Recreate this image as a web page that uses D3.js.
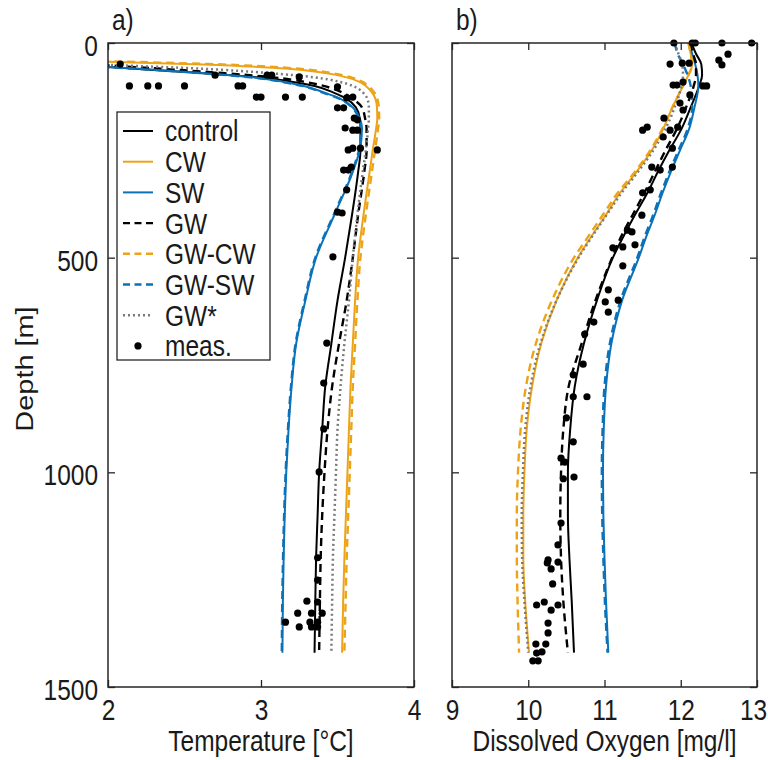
<!DOCTYPE html>
<html>
<head>
<meta charset="utf-8">
<script src="https://cdn.jsdelivr.net/npm/d3@7"></script>
<style>
  body { margin: 0; background: #fff; }
  text { font-family: "Liberation Sans", Arial, sans-serif; fill: #1a1a1a; }
</style>
</head>
<body>
<svg id="chart" width="768" height="760"></svg>
<script>
// ---- data: temperature panel (depth in m, temperature in degC) ----
const tempDepth = [40, 50, 60, 70, 80, 90, 100, 115, 130, 150, 175, 200, 250, 300, 400, 500, 600, 700, 800, 900, 1000, 1100, 1200, 1300, 1420];
const tempControl = [1.3, 1.75, 2.18, 2.6, 2.98, 3.2, 3.35, 3.47, 3.56, 3.62, 3.645, 3.65, 3.65, 3.635, 3.595, 3.55, 3.5, 3.46, 3.42, 3.4, 3.38, 3.37, 3.36, 3.355, 3.35];
const tempCW = [1.6, 2.62, 3.18, 3.42, 3.56, 3.64, 3.685, 3.725, 3.748, 3.758, 3.76, 3.752, 3.73, 3.71, 3.67, 3.635, 3.615, 3.6, 3.585, 3.575, 3.565, 3.555, 3.545, 3.537, 3.53];
const tempSW = [1.3, 1.72, 2.2, 2.62, 2.95, 3.14, 3.28, 3.41, 3.52, 3.6, 3.645, 3.66, 3.645, 3.6, 3.48, 3.36, 3.29, 3.23, 3.2, 3.18, 3.165, 3.155, 3.148, 3.143, 3.14];
const tempGW = [1.45, 1.9, 2.35, 2.75, 3.08, 3.28, 3.41, 3.53, 3.6, 3.66, 3.68, 3.69, 3.69, 3.675, 3.635, 3.6, 3.56, 3.51, 3.465, 3.435, 3.415, 3.4, 3.39, 3.385, 3.38];
const tempGWCW = [1.7, 2.75, 3.25, 3.46, 3.59, 3.66, 3.7, 3.74, 3.76, 3.77, 3.772, 3.765, 3.745, 3.725, 3.685, 3.65, 3.63, 3.615, 3.6, 3.59, 3.58, 3.57, 3.56, 3.553, 3.545];
const tempGWSW = [1.28, 1.7, 2.18, 2.6, 2.93, 3.13, 3.27, 3.4, 3.515, 3.595, 3.64, 3.655, 3.64, 3.595, 3.475, 3.355, 3.285, 3.226, 3.196, 3.176, 3.161, 3.151, 3.144, 3.139, 3.136];
const tempGWstar = [1.4, 1.95, 2.62, 3.05, 3.35, 3.51, 3.6, 3.665, 3.695, 3.705, 3.705, 3.7, 3.685, 3.665, 3.63, 3.6, 3.575, 3.545, 3.52, 3.5, 3.49, 3.48, 3.47, 3.465, 3.46];
const tempMeasDepth = [49, 100, 100, 100, 100, 75, 100, 100, 126, 126, 75, 75, 126, 79, 126, 102, 151, 151, 128, 126, 179, 198, 203, 203, 245, 245, 249, 289, 175, 249, 296, 296, 342, 394, 396, 498, 699, 792, 899, 999, 1199, 1251, 1300, 1302, 1328, 1328, 1328, 1349, 1349, 1349, 1360, 1360, 1360];
const tempMeas = [2.08, 2.14, 2.26, 2.33, 2.5, 2.7, 2.85, 2.88, 2.97, 3.0, 3.04, 3.07, 3.16, 3.25, 3.27, 3.5, 3.5, 3.54, 3.56, 3.6, 3.63, 3.55, 3.6, 3.63, 3.6, 3.65, 3.76, 3.59, 3.61, 3.57, 3.54, 3.57, 3.56, 3.5, 3.53, 3.47, 3.43, 3.41, 3.41, 3.38, 3.37, 3.37, 3.3, 3.37, 3.24, 3.33, 3.4, 3.16, 3.32, 3.37, 3.25, 3.33, 3.37];

// ---- data: oxygen panel (depth in m, dissolved oxygen in mg/l) ----
const oxyDepth = [0, 25, 50, 75, 100, 150, 200, 250, 300, 350, 400, 450, 500, 600, 700, 800, 900, 1000, 1100, 1200, 1300, 1420];
const oxyControl = [12.14, 12.2, 12.27, 12.28, 12.24, 12.13, 12.01, 11.85, 11.7, 11.56, 11.4, 11.25, 11.11, 10.9, 10.73, 10.61, 10.55, 10.52, 10.52, 10.54, 10.57, 10.6];
const oxyCW = [12.1, 12.13, 12.15, 12.1, 12.03, 11.89, 11.77, 11.62, 11.42, 11.2, 11.02, 10.83, 10.65, 10.37, 10.17, 10.05, 9.98, 9.95, 9.935, 9.935, 9.96, 10.01];
const oxySW = [12.11, 12.15, 12.19, 12.22, 12.23, 12.18, 12.11, 11.99, 11.87, 11.76, 11.66, 11.55, 11.45, 11.23, 11.09, 11.02, 10.99, 10.98, 10.985, 11.0, 11.02, 11.05];
const oxyGW = [12.12, 12.16, 12.2, 12.2, 12.17, 12.07, 11.95, 11.8, 11.66, 11.52, 11.37, 11.22, 11.1, 10.88, 10.7, 10.53, 10.46, 10.43, 10.42, 10.43, 10.46, 10.52];
const oxyGWCW = [12.1, 12.13, 12.15, 12.1, 12.03, 11.89, 11.76, 11.6, 11.4, 11.17, 10.98, 10.79, 10.6, 10.31, 10.1, 9.97, 9.9, 9.865, 9.85, 9.85, 9.86, 9.88];
const oxyGWSW = [11.92, 11.96, 12.03, 12.09, 12.13, 12.15, 12.09, 11.97, 11.85, 11.74, 11.64, 11.53, 11.43, 11.21, 11.07, 11.0, 10.975, 10.965, 10.97, 10.985, 11.005, 11.04];
const oxyGWstar = [11.92, 11.97, 12.02, 12.03, 12.01, 11.92, 11.8, 11.64, 11.44, 11.22, 11.03, 10.84, 10.66, 10.37, 10.16, 10.03, 9.96, 9.93, 9.915, 9.92, 9.95, 10.0];
const oxyMeasDepth = [0, 0, 0, 0, 0, 26, 40, 51, 49, 47, 47, 98, 98, 91, 100, 100, 121, 140, 175, 156, 203, 196, 203, 196, 219, 245, 289, 296, 289, 349, 342, 401, 436, 440, 475, 470, 477, 519, 575, 603, 599, 627, 650, 678, 748, 773, 824, 824, 873, 929, 967, 976, 1015, 1011, 1118, 1169, 1204, 1211, 1225, 1209, 1260, 1309, 1302, 1321, 1309, 1351, 1374, 1400, 1400, 1421, 1418, 1439, 1439];
const oxyMeas = [11.91, 12.15, 12.19, 12.54, 12.93, 12.62, 12.5, 12.54, 11.86, 12.02, 12.11, 11.9, 11.95, 12.03, 12.29, 12.34, 12.12, 11.99, 11.78, 12.03, 11.5, 11.56, 11.86, 11.96, 11.77, 11.89, 11.62, 11.73, 11.89, 11.5, 11.6, 11.49, 11.3, 11.36, 11.24, 11.4, 11.11, 11.24, 11.05, 11.01, 11.18, 11.05, 10.86, 10.74, 10.72, 10.59, 10.77, 10.59, 10.5, 10.59, 10.43, 10.48, 10.46, 10.6, 10.43, 10.39, 10.26, 10.25, 10.3, 10.39, 10.32, 10.11, 10.21, 10.3, 10.39, 10.26, 10.26, 10.1, 10.23, 10.11, 10.18, 10.06, 10.13];

const depthTicks = [0, 500, 1000, 1500];
const tempTicks = [2, 3, 4];
const oxyTicks = [9, 10, 11, 12, 13];

const seriesNames = ["control", "CW", "SW", "GW", "GW-CW", "GW-SW", "GW*"];
const tempSeries = [tempControl, tempCW, tempSW, tempGW, tempGWCW, tempGWSW, tempGWstar];
const oxySeries = [oxyControl, oxyCW, oxySW, oxyGW, oxyGWCW, oxyGWSW, oxyGWstar];

// ---- styles ----
const ORANGE = "#EDA318", BLUE = "#0B72BA", GRAY = "#7a7a7a", AXIS = "#262626";
const styles = {
  "control": { color: "#000", dash: null, width: 2 },
  "CW": { color: ORANGE, dash: null, width: 2 },
  "SW": { color: BLUE, dash: null, width: 2 },
  "GW": { color: "#000", dash: "8,5", width: 2.4 },
  "GW-CW": { color: ORANGE, dash: "8,5", width: 2.4 },
  "GW-SW": { color: BLUE, dash: "8,5", width: 2.4 },
  "GW*": { color: GRAY, dash: "2,3", width: 2.5 }
};

const svg = d3.select("#chart");
const yTop = 43, yBottom = 687;
const FS = 24.5;   // font size
const SY = 1.18;   // the figure's text looks stretched vertically

// put a text at (x, y) with the vertical stretch
function place(t, x, y, extra) {
  t.attr("x", null).attr("y", null)
    .attr("transform", `translate(${x},${y}) scale(1,${SY})` + (extra || ""))
    .style("font-size", FS + "px");
  return t;
}

const y = d3.scaleLinear().domain([0, 1500]).range([yTop, yBottom]);

function panel(id, xDomain, xRange, xTicks, depth, series, measDepth, meas, showY, label, title) {
  const x = d3.scaleLinear().domain(xDomain).range(xRange);
  const g = svg.append("g");

  g.append("clipPath").attr("id", "clip-" + id)
    .append("rect").attr("x", xRange[0]).attr("y", yTop)
    .attr("width", xRange[1] - xRange[0]).attr("height", yBottom - yTop);

  const line = d3.line()
    .x(d => x(d[1]))
    .y(d => y(d[0]))
    .curve(d3.curveMonotoneY);

  const lines = g.append("g").attr("clip-path", `url(#clip-${id})`);
  seriesNames.forEach((name, i) => {
    const s = styles[name];
    lines.append("path")
      .datum(depth.map((d, j) => [d, series[i][j]]))
      .attr("d", line)
      .attr("fill", "none")
      .attr("stroke", s.color)
      .attr("stroke-width", s.width)
      .attr("stroke-dasharray", s.dash);
  });

  g.append("g").selectAll("circle")
    .data(measDepth.map((d, j) => [d, meas[j]]))
    .join("circle")
    .attr("cx", d => x(d[1]))
    .attr("cy", d => y(d[0]))
    .attr("r", 3.6)
    .attr("fill", "#000");

  // axes, ticks pointing inward (box on)
  const axB = g.append("g").attr("transform", `translate(0,${yBottom})`)
    .call(d3.axisBottom(x).tickValues(xTicks).tickSize(-7).tickSizeOuter(0).tickFormat(d3.format("d")));
  const axT = g.append("g").attr("transform", `translate(0,${yTop})`)
    .call(d3.axisTop(x).tickValues(xTicks).tickSize(-7).tickSizeOuter(0).tickFormat(""));
  const axL = g.append("g").attr("transform", `translate(${xRange[0]},0)`)
    .call(d3.axisLeft(y).tickValues(depthTicks).tickSize(-7).tickSizeOuter(0)
      .tickFormat(showY ? d3.format("d") : ""));
  const axR = g.append("g").attr("transform", `translate(${xRange[1]},0)`)
    .call(d3.axisRight(y).tickValues(depthTicks).tickSize(-7).tickSizeOuter(0).tickFormat(""));

  [axB, axT, axL, axR].forEach(a => {
    a.select(".domain").remove();
    a.selectAll("line").attr("stroke", AXIS).attr("stroke-width", 1.3);
    a.selectAll("text").attr("fill", "#1a1a1a").style("font-family", "'Liberation Sans',Arial,sans-serif");
  });
  // last label of panel b sits at the figure's right edge: nudge it in
  axB.selectAll("text").each(function (d) {
    const dx = (id === "b" && d === xTicks[xTicks.length - 1]) ? -4 : 0;
    place(d3.select(this), dx, 33).attr("dy", null);
  });
  axL.selectAll("text").each(function () { place(d3.select(this), -10, 2).attr("dy", "0.36em"); });

  g.append("rect")
    .attr("x", xRange[0]).attr("y", yTop)
    .attr("width", xRange[1] - xRange[0]).attr("height", yBottom - yTop)
    .attr("fill", "none").attr("stroke", AXIS).attr("stroke-width", 1.5);

  place(g.append("text").text(label), xRange[0] + 4, 30);
  place(g.append("text").text(title), (xRange[0] + xRange[1]) / 2, 751).attr("text-anchor", "middle");

  return x;
}

panel("a", [2, 4], [108, 414], tempTicks, tempDepth, tempSeries, tempMeasDepth, tempMeas, true, "a)", "Temperature [°C]");
panel("b", [9, 13], [452, 757], oxyTicks, oxyDepth, oxySeries, oxyMeasDepth, oxyMeas, false, "b)", "Dissolved Oxygen [mg/l]");

place(svg.append("text").text("Depth [m]"), 33, 369, " rotate(-90)").attr("text-anchor", "middle");

// ---- legend ----
const leg = svg.append("g");
leg.append("rect")
  .attr("x", 117).attr("y", 112).attr("width", 153).attr("height", 248)
  .attr("fill", "#fff").attr("stroke", AXIS).attr("stroke-width", 1.3);
const legendItems = seriesNames.concat(["meas."]);
legendItems.forEach((name, i) => {
  const cy = 131 + i * 30.7;
  if (name === "meas.") {
    leg.append("circle").attr("cx", 138).attr("cy", cy).attr("r", 3.6).attr("fill", "#000");
  } else {
    const s = styles[name];
    leg.append("line")
      .attr("x1", 123).attr("x2", 153).attr("y1", cy).attr("y2", cy)
      .attr("stroke", s.color).attr("stroke-width", s.width)
      .attr("stroke-dasharray", s.dash === "8,5" ? "7,4.5" : s.dash);
  }
  place(leg.append("text").text(name), 165, cy).attr("dy", "0.36em");
});
</script>
</body>
</html>
